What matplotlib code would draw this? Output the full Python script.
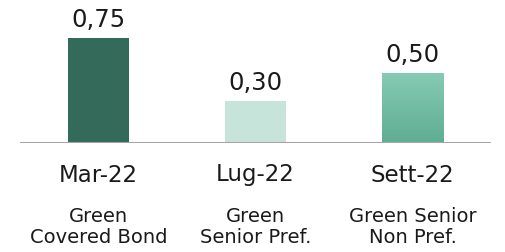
import numpy as np
import matplotlib.pyplot as plt
import matplotlib.transforms as mtransforms
from matplotlib.colors import LinearSegmentedColormap

plt.rcParams['font.family'] = ['DejaVu Sans']

dates = ['Mar-22', 'Lug-22', 'Sett-22']
bond_types = ['Green\nCovered Bond', 'Green\nSenior Pref.', 'Green Senior\nNon Pref.']
values = [0.75, 0.30, 0.50]
value_labels = ['0,75', '0,30', '0,50']

W, H = 506, 252
fig = plt.figure(figsize=(W / 100, H / 100), dpi=100)
ax = fig.add_axes([20 / W, 109 / H, 471 / W, 133 / H])

x = np.arange(len(values))
bar_w = 0.39
bars = ax.bar(x, values, width=bar_w, color=['#336a59', '#c7e4da', '#72bfa4'], zorder=2)

# gradient on the third bar
grad = LinearSegmentedColormap.from_list('g', ['#5fad94', '#86cab3'])
b = bars[2]
img = ax.imshow(np.linspace(0, 1, 100).reshape(-1, 1), cmap=grad, aspect='auto',
                origin='lower',
                extent=[b.get_x(), b.get_x() + b.get_width(), 0, b.get_height()], zorder=3)
img.set_clip_path(b)

ax.set_xlim(-0.5, 2.5)
ax.set_ylim(0, 0.95)
ax.axhline(0, color='#a6a6a6', lw=1.5, zorder=4)
for s in ax.spines.values():
    s.set_visible(False)
ax.set_xticks([])
ax.set_yticks([])

for xi, v, lab in zip(x, values, value_labels):
    ax.annotate(lab, (xi, v), xytext=(0, 11), textcoords='offset pixels',
                ha='center', va='baseline', fontsize=17.5, color='#1a1a1a')

tr = mtransforms.blended_transform_factory(ax.transData, fig.transFigure)
for xi, d, t in zip(x, dates, bond_types):
    ax.text(xi, 1 - 175 / H, d, transform=tr, ha='center', va='center',
            fontsize=16.5, color='#1a1a1a')
    ax.text(xi, 1 - 227 / H, t, transform=tr, ha='center', va='center',
            fontsize=14, color='#1a1a1a', linespacing=1.1)

fig.savefig('out.png', dpi=100)
